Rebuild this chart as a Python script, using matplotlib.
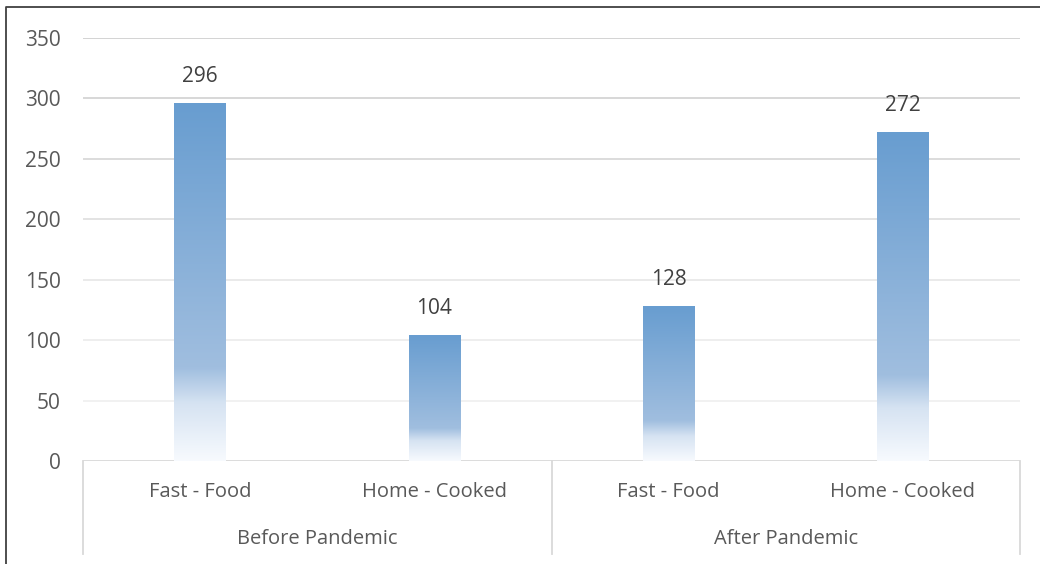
import numpy as np
import matplotlib
matplotlib.use("Agg")
import matplotlib.pyplot as plt
from matplotlib.colors import LinearSegmentedColormap
from matplotlib.lines import Line2D

# ---- data ----
groups = ["Before Pandemic", "After Pandemic"]
categories = ["Fast - Food", "Home - Cooked", "Fast - Food", "Home - Cooked"]
values = [296, 104, 128, 272]
yticks = [0, 50, 100, 150, 200, 250, 300, 350]

plt.rcParams['font.family'] = ['Open Sans', 'DejaVu Sans']

fig = plt.figure(figsize=(10.4, 5.64), dpi=100)
ax = fig.add_axes([83/1040, 1 - 461/564, (1020 - 83)/1040, (461 - 38)/564])

x = np.arange(len(values))
bars = ax.bar(x, values, width=0.22, facecolor='none', edgecolor='none', zorder=3)

cmap = LinearSegmentedColormap.from_list("g", [
    (0.0, (104/255, 157/255, 208/255)),
    (0.74, (160/255, 190/255, 223/255)),
    (0.84, (214/255, 227/255, 242/255)),
    (1.0, (247/255, 250/255, 254/255)),
])
grad = np.linspace(0, 1, 256).reshape(-1, 1)
for p in bars.patches:
    x0, w, h = p.get_x(), p.get_width(), p.get_height()
    im = ax.imshow(grad, cmap=cmap, extent=[x0, x0 + w, 0, h], aspect='auto',
                   origin='upper', zorder=3, interpolation='bilinear')
    im.set_clip_path(p)

ax.set_xlim(-0.5, len(values) - 0.5)
ax.set_ylim(0, 350)

# gridlines (fading slightly toward the bottom)
grid_colors = {50: '#f0f0f0', 100: '#ededed', 150: '#e8e8e8', 200: '#e0e0e0',
               250: '#d9d9d9', 300: '#d4d4d4', 350: '#d0d0d0'}
for t in yticks[1:]:
    ax.axhline(t, color=grid_colors[t], lw=1.3, zorder=1)

for s in ax.spines.values():
    s.set_visible(False)
ax.set_yticks(yticks)
ax.set_yticklabels([str(t) for t in yticks])
ax.tick_params(axis='y', length=0, pad=16, labelsize=15, labelcolor='#595959')
ax.set_xticks([])

# bottom axis line and category separators
ax.axhline(0, color='#d9d9d9', lw=1.3, zorder=2)
tr = ax.get_xaxis_transform()
for xs in [-0.5, 1.5, 3.5]:
    ax.add_line(Line2D([xs, xs], [0, -0.22], transform=tr, color='#d9d9d9',
                       lw=1.3, clip_on=False))

for xi, c in zip(x, categories):
    ax.text(xi, -0.073, c, transform=tr, ha='center', va='center',
            fontsize=14.5, color='#595959')
for gi, g in enumerate(groups):
    ax.text(gi * 2 + 0.5, -0.184, g, transform=tr, ha='center', va='center',
            fontsize=14.5, color='#595959')

# data labels
for xi, v in zip(x, values):
    ax.annotate(str(v), (xi, v), xytext=(0, 19), textcoords='offset points',
                ha='center', va='center', fontsize=15, color='#404040')

# figure border (left and top)
fig.add_artist(Line2D([6/1040, 6/1040, 1.0], [0.0, 1 - 7/564, 1 - 7/564],
                      transform=fig.transFigure, color='#404040', lw=1.3))

fig.savefig("out.png", dpi=100)
